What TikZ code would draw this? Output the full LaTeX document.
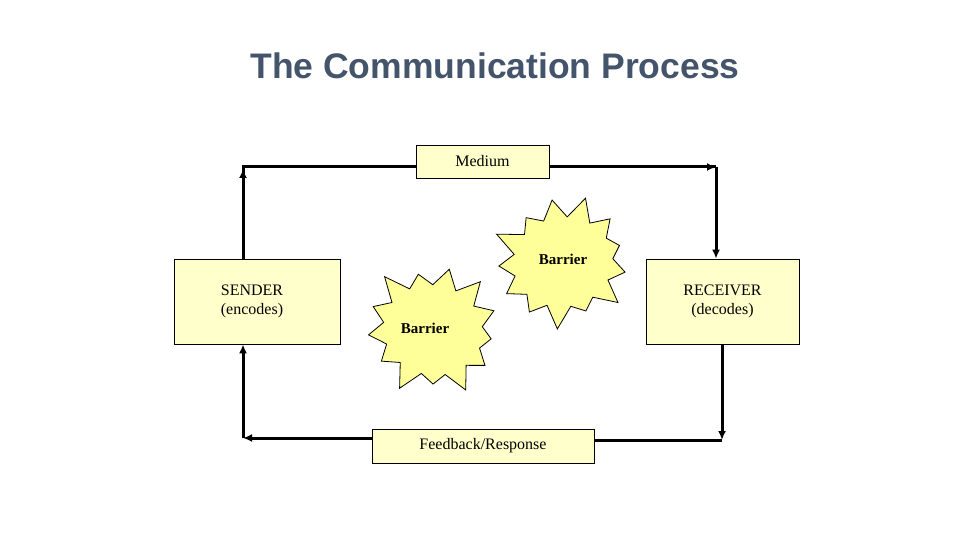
\documentclass[tikz,border=0pt]{standalone}
\usepackage{fontspec}
\setmainfont{Liberation Serif}
\newfontfamily\titlefont{Liberation Sans}
\usetikzlibrary{shapes.symbols,arrows.meta,positioning}
\definecolor{paleyel}{HTML}{FFFFCC}
\definecolor{burst}{HTML}{FFFF99}
\definecolor{titleblue}{HTML}{44546A}
\tikzset{%
  box/.style={draw, thick, fill=paleyel, font=\fontsize{16}{19}\selectfont,
    inner sep=0pt},
  flow/.style={line width=3pt, -{Latex[length=9pt,width=8pt]}},
  barrier/.style={starburst, starburst points=13, starburst point height=25pt,
    draw, thick, fill=burst, inner sep=0pt,
    minimum width=150pt, minimum height=140pt}
}
\begin{document}
\begin{tikzpicture}[x=1pt,y=-1pt]
\useasboundingbox (0,0) rectangle (960,540);
\node[font=\titlefont\bfseries\fontsize{35.5}{42}\selectfont, text=titleblue] (title) at (495,66) {The Communication Process};

\node[box, minimum width=133pt, minimum height=33pt] (medium) at (482.5,161.5) {Medium};
\node[box, minimum width=166pt, minimum height=85pt, align=left] (sender) at (257,301.5) {\hspace*{-10pt}SENDER\\\hspace*{-10pt}(encodes)};
\node[box, minimum width=153pt, minimum height=85pt, align=center] (receiver) at (722.5,301.5) {RECEIVER\\(decodes)};
\node[box, minimum width=222pt, minimum height=34pt] (feedback) at (483,446) {Feedback/Response};

\node[barrier, rotate=10] (bar1) at (563,262) {};
\node[font=\bfseries\fontsize{15}{17}\selectfont] (bar1txt) at (563,259) {Barrier};
\node[barrier, rotate=-15] (bar2) at (433,330) {};
\node[font=\bfseries\fontsize{15}{17}\selectfont] (bar2txt) at (425,328) {Barrier};

\coordinate (tl) at (243,167);
\coordinate (tr) at (716,167);
\coordinate (br) at (722,440);
\coordinate (bl) at (243,438);

\draw[line width=3pt] (sender.north -| tl) -- (tl) -- (medium.west |- tl);
\draw[flow] (sender.north -| tl) -- ([yshift=-2pt]tl);
\draw[line width=3pt] (medium.east |- tr) -- (tr);
\draw[flow] (medium.east |- tr) -- (tr);
\draw[flow] (tr) -- (receiver.north -| tr);
\draw[flow] (receiver.south -| br) -- (br);
\draw[line width=3pt] (br) -- (feedback.east |- br);
\draw[flow] (feedback.west |- bl) -- (bl);
\draw[flow] (bl) -- (sender.south -| bl);
\end{tikzpicture}
\end{document}
